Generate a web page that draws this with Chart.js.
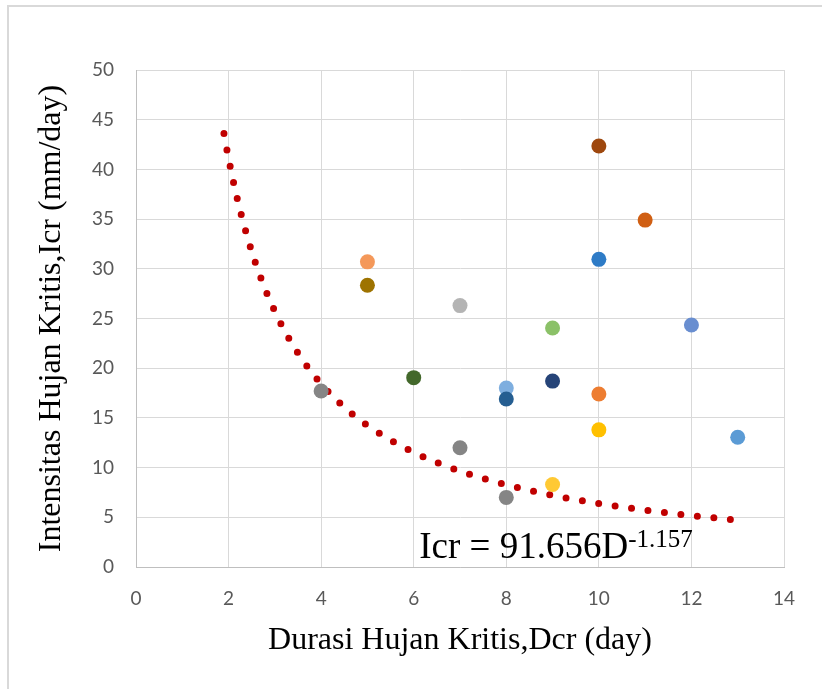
<!DOCTYPE html>
<html>
<head>
<meta charset="utf-8">
<script src="https://cdn.jsdelivr.net/npm/chart.js@4.4.1/dist/chart.umd.min.js"></script>
<style>
  html, body { margin: 0; padding: 0; background: #fff; }
  #wrap { width: 829px; height: 689px; position: relative; }
</style>
</head>
<body>
<div id="wrap"><canvas id="chart" width="829" height="689"></canvas></div>
<script>
// observed points (duration in days, intensity in mm/day)
const durations   = [4, 5, 5, 6, 7, 7, 8, 8, 8, 9, 9, 9, 10, 10, 10, 10, 11, 12, 13];
const intensities = [17.7, 30.7, 28.35, 19.05, 26.3, 12.0, 18.0, 16.9, 7.0, 24.05, 18.7, 8.3, 42.35, 30.95, 17.4, 13.8, 34.9, 24.35, 13.05];
const pointColors = ['#858585', '#F4985A', '#9E7300', '#43682B', '#B4B4B4', '#858585', '#7EAEDF', '#255E91', '#858585',
                     '#8BC168', '#264478', '#FFC934', '#9E480E', '#2E7BC6', '#ED7D31', '#FFC000', '#D05F13', '#698ED0', '#5B9BD5'];

// power trendline
const trendD = [1.9, 2.0, 2.2, 2.5, 2.8, 3.2, 3.6, 4, 4.5, 5, 6, 7, 8, 9, 10, 11, 12, 12.9];
const trendI = [43.61, 41.10, 36.81, 31.75, 27.85, 23.86, 20.82, 18.43, 16.08, 14.24, 11.53, 9.65, 8.27, 7.21, 6.38, 5.72, 5.17, 4.76];

const xTicks = [0, 2, 4, 6, 8, 10, 12, 14];
const yTicks = [0, 5, 10, 15, 20, 25, 30, 35, 40, 45, 50];
const equationText = 'Icr = 91.656D';
const equationExp = '-1.157';

const frame = {
  id: 'frame',
  beforeDraw(chart) {
    const ctx = chart.ctx;
    ctx.save();
    ctx.strokeStyle = '#d9d9d9';
    ctx.lineWidth = 2;
    ctx.beginPath();
    ctx.moveTo(822, 6);
    ctx.lineTo(8, 6);
    ctx.lineTo(8, 689);
    ctx.stroke();
    ctx.restore();
  }
};

const equation = {
  id: 'equation',
  afterDatasetsDraw(chart) {
    const ctx = chart.ctx;
    const x = chart.scales.x.getPixelForValue(6.12);
    const y = chart.scales.y.getPixelForValue(0.9);
    ctx.save();
    ctx.fillStyle = '#000';
    ctx.textBaseline = 'alphabetic';
    ctx.font = '37px "Liberation Serif", "Times New Roman", serif';
    ctx.fillText(equationText, x, y);
    const w = ctx.measureText(equationText).width;
    ctx.font = '25px "Liberation Serif", "Times New Roman", serif';
    ctx.fillText(equationExp, x + w, y - 11);
    ctx.restore();
  }
};

const tickFont = {family: 'Lato, "Liberation Sans", sans-serif', size: 19};
const titleFont = {family: '"Liberation Serif", "Times New Roman", serif', size: 32};

new Chart(document.getElementById('chart'), {
  type: 'scatter',
  data: {
    datasets: [{
      label: 'Icr',
      data: durations.map((d, i) => ({x: d, y: intensities[i]})),
      backgroundColor: pointColors,
      borderWidth: 0,
      pointRadius: 7.5,
      pointHoverRadius: 7.5
    }, {
      label: 'trend',
      type: 'line',
      data: trendD.map((d, i) => ({x: d, y: trendI[i]})),
      borderColor: '#C00000',
      borderWidth: 7,
      borderDash: [0, 16.58],
      borderCapStyle: 'round',
      cubicInterpolationMode: 'monotone',
      pointRadius: 0,
      fill: false
    }]
  },
  options: {
    responsive: false,
    animation: false,
    layout: {padding: {left: 0, top: 70, right: 45, bottom: 0}},
    plugins: {legend: {display: false}, tooltip: {enabled: false}},
    scales: {
      x: {
        type: 'linear',
        min: 0, max: 14,
        afterFit(scale) { scale.height = 122; },
        afterBuildTicks(scale) { scale.ticks = xTicks.map(v => ({value: v})); },
        grid: {color: '#d9d9d9', lineWidth: 1, drawTicks: false},
        border: {color: '#bfbfbf', width: 1},
        ticks: {color: '#595959', font: tickFont, padding: 20, maxRotation: 0},
        title: {display: true, text: 'Durasi Hujan Kritis,Dcr (day)', color: '#000', font: titleFont, padding: {top: 0, bottom: 29}}
      },
      y: {
        type: 'linear',
        min: 0, max: 50,
        afterFit(scale) { scale.width = 136; },
        afterBuildTicks(scale) { scale.ticks = yTicks.map(v => ({value: v})); },
        grid: {color: '#d9d9d9', lineWidth: 1, drawTicks: false},
        border: {color: '#bfbfbf', width: 1},
        ticks: {color: '#595959', font: tickFont, padding: 22},
        title: {display: true, text: 'Intensitas Hujan Kritis,Icr (mm/day)', color: '#000', font: titleFont, padding: {top: 32, bottom: 0}}
      }
    }
  },
  plugins: [frame, equation]
});
</script>
</body>
</html>
